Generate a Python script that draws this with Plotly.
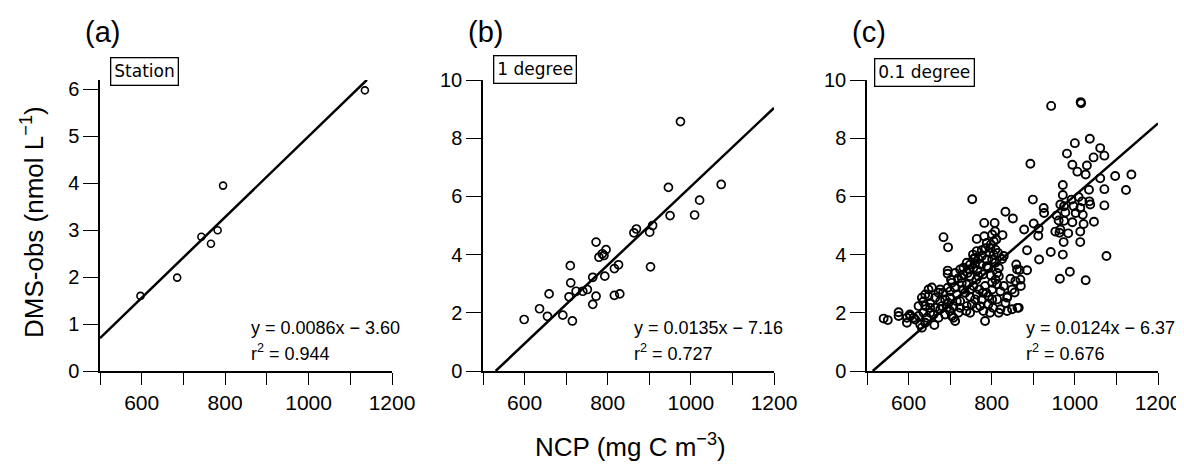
import plotly.graph_objects as go

# ---------------- data ----------------
a_ncp = [597, 685, 743, 766, 782, 795, 1135]
a_dms = [1.60, 1.99, 2.86, 2.71, 3.00, 3.95, 5.98]

b_ncp = [599, 636, 659, 655, 692, 715, 707, 711, 710, 724, 740, 751, 764, 764, 772, 772,
         779, 787, 796, 791, 793, 816, 826, 816, 829, 863, 869, 901, 908, 903, 946, 950,
         975, 1009, 1021, 1073]
b_dms = [1.77, 2.14, 2.65, 1.88, 1.92, 1.72, 2.55, 3.03, 3.62, 2.74, 2.74, 2.80, 3.22, 2.29, 2.57, 4.43,
         3.91, 4.03, 4.17, 3.97, 3.26, 3.52, 3.65, 2.60, 2.65, 4.75, 4.88, 4.77, 5.00, 3.58, 6.31, 5.34,
         8.57, 5.36, 5.87, 6.41]

c_ncp = [943, 1014, 1015, 1000, 1036, 981, 1061, 1045, 1071, 994, 1029, 1006, 1026, 893, 1061, 1097,
         1136, 971, 1034, 1071, 1123, 971, 753, 899, 925, 926, 992, 1009, 1018, 1035, 1037, 965,
         974, 997, 1013, 977, 1002, 1019, 956, 1071, 961, 974, 994, 1021, 1046, 953, 965, 963,
         984, 1013, 973, 1013, 1076, 942, 971, 914, 964, 988, 1026, 833, 851, 782, 807, 808,
         826, 684, 695, 764, 901, 878, 913, 912, 885, 811, 798, 788, 785, 776, 755, 760,
         768, 795, 805, 829, 825, 740, 745, 772, 788, 809, 817, 859, 861, 885, 869, 845,
         694, 694, 724, 712, 732, 719, 748, 763, 779, 798, 813, 809, 801, 813, 784, 756,
         740, 728, 702, 694, 683, 656, 672, 664, 648, 635, 652, 676, 700, 716, 736, 748,
         764, 776, 792, 801, 724, 708, 724, 740, 752, 764, 748, 720, 704, 712, 708, 692,
         688, 676, 664, 660, 672, 652, 644, 640, 662, 628, 632, 616, 604, 596, 603, 576,
         576, 540, 550, 784, 821, 817, 837, 865, 833, 837, 849, 857, 838, 792, 772, 796,
         813, 821, 829, 817, 792, 766, 756, 760, 768, 748, 732, 688, 680, 700, 696, 760,
         770, 779, 787, 801, 803, 780, 739, 716, 809, 801, 776, 788, 782, 801, 805, 797,
         815, 764, 756, 748, 732, 742, 728, 704, 711, 700, 676, 648, 640, 632, 624, 640,
         652, 636, 624, 612, 596, 867, 849, 862, 870, 855]
c_dms = [9.11, 9.24, 9.20, 7.83, 7.98, 7.47, 7.66, 7.34, 7.40, 7.09, 7.06, 6.85, 6.75, 7.12, 6.62, 6.70,
         6.75, 6.39, 6.23, 6.25, 6.22, 6.05, 5.90, 5.89, 5.60, 5.43, 5.89, 5.98, 5.83, 5.83, 5.72, 5.72,
         5.66, 5.66, 5.60, 5.45, 5.43, 5.37, 5.34, 5.69, 5.17, 5.16, 5.11, 5.05, 5.13, 4.79, 4.86, 4.75,
         4.73, 4.79, 4.43, 4.43, 3.95, 4.09, 4.00, 3.83, 3.17, 3.41, 3.12, 5.47, 5.24, 5.09, 5.09, 4.80,
         4.67, 4.60, 4.25, 4.54, 5.07, 4.86, 4.89, 4.65, 4.15, 4.52, 4.35, 4.40, 4.22, 4.15, 4.00, 3.89,
         3.85, 4.06, 4.00, 3.95, 3.85, 3.72, 3.49, 3.66, 3.60, 3.72, 3.54, 3.66, 3.49, 3.46, 3.14, 3.17,
         3.45, 3.34, 3.49, 3.37, 3.32, 3.18, 3.26, 3.14, 3.32, 3.28, 3.37, 3.14, 3.03, 2.97, 2.92, 2.92,
         2.97, 3.03, 3.14, 2.86, 2.69, 2.87, 2.69, 2.52, 2.57, 2.38, 2.34, 2.40, 2.52, 2.63, 2.69, 2.55,
         2.63, 2.46, 2.57, 2.80, 2.40, 2.23, 2.17, 2.23, 2.29, 2.17, 2.00, 2.00, 1.89, 1.72, 1.83, 2.17,
         1.94, 2.12, 2.17, 1.94, 1.83, 2.00, 1.83, 1.66, 1.58, 1.60, 1.49, 1.77, 1.89, 1.66, 1.94, 2.02,
         1.89, 1.80, 1.75, 1.72, 2.12, 2.00, 2.06, 2.17, 2.34, 2.52, 2.80, 3.09, 2.57, 2.29, 2.23, 2.00,
         2.46, 2.74, 2.92, 3.26, 3.54, 3.46, 3.54, 3.69, 3.26, 2.80, 2.80, 2.46, 2.23, 2.06, 2.34, 2.46,
         2.80, 2.69, 2.69, 2.46, 2.17, 2.06, 2.06, 2.40, 4.17, 3.83, 3.95, 3.83, 4.63, 4.69, 4.46, 4.23,
         4.06, 4.12, 3.85, 3.66, 3.55, 3.37, 3.20, 3.03, 2.86, 2.74, 2.80, 2.80, 2.63, 2.52, 2.23, 2.23,
         2.17, 2.00, 1.89, 1.83, 1.83, 3.47, 2.12, 2.17, 2.92, 2.70]

panel_titles = ["(a)", "(b)", "(c)"]
box_labels = ["Station", "1 degree", "0.1 degree"]
slopes = [0.0086, 0.0135, 0.0124]
intercepts = [-3.60, -7.16, -6.37]
r2_values = [0.944, 0.727, 0.676]
fit_x_ranges = [(500, 1140), (530.4, 1200), (513.7, 1200)]

x_tickvals = [500, 600, 700, 800, 900, 1000, 1100, 1200]
x_ticktext = ["", "600", "", "800", "", "1000", "", "1200"]
y_ticks_a = [0, 1, 2, 3, 4, 5, 6]
y_ticks_bc = [0, 2, 4, 6, 8, 10]

# ---------------- figure ----------------
# The page body has an 8 px margin at left/top, so the figure is offset by it
OFF = 8
W, H = 1184 - OFF, 466 - OFF


def fx(px):
    return (px - OFF) / W


def fy(py):
    return 1 - (py - OFF) / H


x_domains_px = [(100, 392), (483, 774), (867, 1158)]
y_dom = [fy(371), fy(80)]
y_ranges = [[0, 6.2], [0, 10], [0, 10]]

FONT = "Liberation Sans, Arial, sans-serif"
BOXFONT = "DejaVu Sans, sans-serif"
fig = go.Figure()

datasets = [(a_ncp, a_dms), (b_ncp, b_dms), (c_ncp, c_dms)]
marker_sizes = [7, 8, 8]
marker_lw = [1.6, 1.7, 1.9]
for i, (xs, ys) in enumerate(datasets):
    xa = "x" if i == 0 else f"x{i+1}"
    ya = "y" if i == 0 else f"y{i+1}"
    fig.add_trace(go.Scatter(
        x=xs, y=ys, mode="markers", xaxis=xa, yaxis=ya, showlegend=False,
        marker=dict(symbol="circle-open", size=marker_sizes[i], color="black",
                    line=dict(color="black", width=marker_lw[i])),
        cliponaxis=False))
    x0, x1 = fit_x_ranges[i]
    fig.add_trace(go.Scatter(
        x=[x0, x1], y=[slopes[i] * x0 + intercepts[i], slopes[i] * x1 + intercepts[i]],
        mode="lines", xaxis=xa, yaxis=ya, showlegend=False,
        line=dict(color="black", width=2.5), cliponaxis=False))

layout = dict(width=W, height=H,
              margin=dict(l=0, r=0, t=0, b=0, autoexpand=False),
              paper_bgcolor="white", plot_bgcolor="white",
              font=dict(family=FONT, color="black"))

for i in range(3):
    xk = "xaxis" if i == 0 else f"xaxis{i+1}"
    yk = "yaxis" if i == 0 else f"yaxis{i+1}"
    xname = "x" if i == 0 else f"x{i+1}"
    yname = "y" if i == 0 else f"y{i+1}"
    d0, d1 = x_domains_px[i]
    layout[xk] = dict(domain=[fx(d0), fx(d1)], range=[500, 1200], anchor=yname,
                      automargin=False, ticklabeloverflow="allow",
                      tickmode="array", tickvals=x_tickvals, ticktext=x_ticktext,
                      ticks="outside", ticklen=12, tickwidth=1.3, tickcolor="black",
                      showline=True, linecolor="black", linewidth=1.5,
                      showgrid=False, zeroline=False,
                      tickfont=dict(size=21, family=FONT))
    yt = y_ticks_a if i == 0 else y_ticks_bc
    layout[yk] = dict(domain=y_dom, range=y_ranges[i], anchor=xname,
                      automargin=False, ticklabeloverflow="allow",
                      tickmode="array", tickvals=yt,
                      ticks="outside", ticklen=15, tickwidth=1.3, tickcolor="black",
                      showline=True, linecolor="black", linewidth=1.5,
                      showgrid=False, zeroline=False,
                      tickfont=dict(size=20, family=FONT))

fig.update_layout(**layout)

box_left_px = [110, 493, 874]
box_mid_px = [71.5, 69.5, 72.5]
eq_left_px = [249, 632, 1024]

annotations = []
for i in range(3):
    d0, d1 = x_domains_px[i]
    # panel letter
    annotations.append(dict(text=panel_titles[i], xref="paper", yref="paper",
                            x=fx(d0 + 2), y=fy(32), showarrow=False,
                            xanchor="center", yanchor="middle",
                            font=dict(size=29, family=FONT)))
    # boxed label
    annotations.append(dict(text=box_labels[i], xref="paper", yref="paper",
                            x=fx(box_left_px[i]), y=fy(box_mid_px[i]), showarrow=False,
                            xanchor="left", yanchor="middle",
                            bordercolor="black", borderwidth=1.3, borderpad=3,
                            bgcolor="white",
                            font=dict(size=17, family=BOXFONT)))
    # equation
    annotations.append(dict(text=f"y = {slopes[i]:.4f}x − {abs(intercepts[i]):.2f}",
                            xref="paper", yref="paper",
                            x=fx(eq_left_px[i]), y=fy(328), showarrow=False,
                            xanchor="left", yanchor="middle",
                            font=dict(size=18, family=FONT)))
    annotations.append(dict(text=f"r<sup>2</sup> = {r2_values[i]:.3f}",
                            xref="paper", yref="paper",
                            x=fx(eq_left_px[i]), y=fy(352), showarrow=False,
                            xanchor="left", yanchor="middle",
                            font=dict(size=18, family=FONT)))

annotations.append(dict(text="DMS-obs (nmol L<sup>−1</sup>)", xref="paper", yref="paper",
                        x=fx(32), y=fy(222), textangle=-90, showarrow=False,
                        xanchor="center", yanchor="middle",
                        font=dict(size=26, family=FONT)))
annotations.append(dict(text="NCP (mg C m<sup>−3</sup>)", xref="paper", yref="paper",
                        x=fx(630), y=fy(445), showarrow=False,
                        xanchor="center", yanchor="middle",
                        font=dict(size=26, family=FONT)))

fig.update_layout(annotations=annotations)
fig.write_html("out.html")
